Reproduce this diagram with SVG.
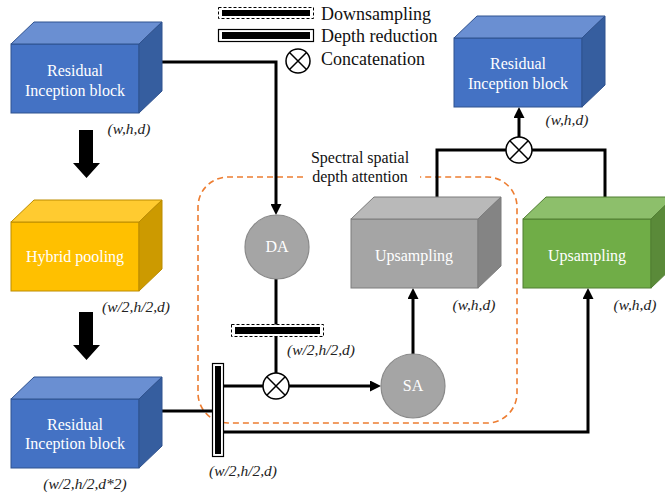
<svg xmlns="http://www.w3.org/2000/svg" width="665" height="497" viewBox="0 0 665 497">
<defs>
<style>
.lbl{font-family:"Liberation Serif","Tinos","DejaVu Serif","Noto Serif",serif;font-size:16px;fill:#ffffff;text-anchor:middle}
.dim{font-family:"Liberation Serif","Tinos","DejaVu Serif","Noto Serif",serif;font-size:15.5px;font-style:italic;fill:#222;text-anchor:middle}
.leg{font-family:"Liberation Serif","Tinos","DejaVu Serif","Noto Serif",serif;font-size:18px;fill:#111}
.cap{font-family:"Liberation Serif","Tinos","DejaVu Serif","Noto Serif",serif;font-size:16px;fill:#111;text-anchor:middle}
.conn{fill:none;stroke:#000;stroke-width:3}
.cc{fill:#fff;stroke:#000;stroke-width:1.5}
.bf{fill:#4472C4;stroke:#2F528F;stroke-width:1}
.bt{fill:#6A8FD2;stroke:#2F528F;stroke-width:1}
.bs{fill:#365E9F;stroke:#2F528F;stroke-width:1}
.of{fill:#FFC000;stroke:#BC8C00;stroke-width:1}
.ot{fill:#FFCB30;stroke:#BC8C00;stroke-width:1}
.os{fill:#CC9A00;stroke:#BC8C00;stroke-width:1}
.gf{fill:#A5A5A5;stroke:#7C7C7C;stroke-width:1}
.gt{fill:#B9B9B9;stroke:#7C7C7C;stroke-width:1}
.gs{fill:#848484;stroke:#7C7C7C;stroke-width:1}
.nf{fill:#70AD47;stroke:#507E32;stroke-width:1}
.nt{fill:#8DBF6B;stroke:#507E32;stroke-width:1}
.ns{fill:#5A8A39;stroke:#507E32;stroke-width:1}
.circ{fill:#A5A5A5;stroke:#8A8A8A;stroke-width:1.2}
</style>
<marker id="ah" viewBox="0 0 11 11" refX="3" refY="5.5" markerWidth="11" markerHeight="11" markerUnits="userSpaceOnUse" orient="auto">
<path d="M0,0 L11,5.5 L0,11 z" fill="#000"/>
</marker>
</defs>
<rect width="665" height="497" fill="#fff"/>

<!-- legend -->
<g id="legend">
<rect x="218.5" y="7.5" width="95" height="11" fill="#fff" stroke="#000" stroke-width="1" stroke-dasharray="3 2"/>
<rect x="222" y="10" width="88" height="6" fill="#000"/>
<text class="leg" x="321" y="20">Downsampling</text>
<rect x="218.5" y="29.5" width="95" height="12" fill="#fff" stroke="#000" stroke-width="1.2"/>
<rect x="222" y="32" width="88" height="7" fill="#000"/>
<text class="leg" x="321" y="42">Depth reduction</text>
<circle class="cc" cx="298" cy="61" r="12"/>
<path d="M289.5,52.5 L306.5,69.5 M306.5,52.5 L289.5,69.5" stroke="#000" stroke-width="1.5"/>
<text class="leg" x="321" y="65">Concatenation</text>
</g>

<!-- attention region -->
<g id="attention-region">
<path d="M303,177 H228 A30,30 0 0 0 198,207 V393 A30,30 0 0 0 228,423 H487 A30,30 0 0 0 517,393 V207 A30,30 0 0 0 487,177 H420" fill="none" stroke="#ED7D31" stroke-width="1.6" stroke-dasharray="6 4"/>
<text class="cap" x="360" y="163">Spectral spatial</text>
<text class="cap" x="360" y="182">depth attention</text>
</g>

<!-- connectors -->
<g id="connectors">
<path class="conn" d="M160,62 H276 V207" marker-end="url(#ah)"/>
<path class="conn" d="M276,279 V373"/>
<path class="conn" d="M223.5,386 H263"/>
<path class="conn" d="M289,386 H373" marker-end="url(#ah)"/>
<path class="conn" d="M413,354 V296" marker-end="url(#ah)"/>
<path class="conn" d="M437,197 V150 H506"/>
<path class="conn" d="M605,197 V150 H532"/>
<path class="conn" d="M519,137 V115" marker-end="url(#ah)"/>
<path class="conn" d="M224,432 H588 V296" marker-end="url(#ah)"/>
<path class="conn" d="M162,411 H212.5"/>
<polygon points="79,130 93,130 93,163 100,163 86.5,178 73,163 79,163" fill="#000"/>
<polygon points="79,312 93,312 93,345 100,345 86.5,360 73,345 79,345" fill="#000"/>
</g>

<!-- downsampling bar on DA path -->
<g id="downsampling">
<rect x="231.5" y="324.5" width="92" height="12" fill="#fff" stroke="#000" stroke-width="1" stroke-dasharray="3 2"/>
<rect x="235" y="327" width="85" height="7" fill="#000"/>
<text class="dim" x="321" y="355">(w/2,h/2,d)</text>
</g>

<!-- depth reduction bar -->
<g id="depth-reduction">
<rect x="212.5" y="363.5" width="11" height="93" fill="#fff" stroke="#000" stroke-width="1.2"/>
<rect x="215" y="366" width="6" height="88" fill="#000"/>
<text class="dim" x="243" y="476">(w/2,h/2,d)</text>
</g>

<!-- concat nodes -->
<g id="concat-1">
<circle class="cc" cx="276" cy="386" r="13"/>
<path d="M266.8,376.8 L285.2,395.2 M285.2,376.8 L266.8,395.2" stroke="#000" stroke-width="1.5"/>
</g>
<g id="concat-2">
<circle class="cc" cx="519" cy="150" r="13"/>
<path d="M509.8,140.8 L528.2,159.2 M528.2,140.8 L509.8,159.2" stroke="#000" stroke-width="1.5"/>
</g>

<!-- top-left residual -->
<g id="residual-1">
<rect class="bf" x="11" y="44" width="128" height="69"/>
<polygon class="bt" points="11,44 34,22 162,22 139,44"/>
<polygon class="bs" points="139,44 162,22 162,91 139,113"/>
<text class="lbl" x="75" y="76">Residual</text>
<text class="lbl" x="75" y="96">Inception block</text>
<text class="dim" x="129" y="134">(w,h,d)</text>
</g>

<!-- hybrid pooling -->
<g id="hybrid-pooling">
<rect class="of" x="11" y="222" width="128" height="69"/>
<polygon class="ot" points="11,222 34,200 162,200 139,222"/>
<polygon class="os" points="139,222 162,200 162,269 139,291"/>
<text class="lbl" x="75" y="262">Hybrid pooling</text>
<text class="dim" x="136" y="312">(w/2,h/2,d)</text>
</g>

<!-- bottom-left residual -->
<g id="residual-2">
<rect class="bf" x="11" y="399" width="128" height="69"/>
<polygon class="bt" points="11,399 34,377 162,377 139,399"/>
<polygon class="bs" points="139,399 162,377 162,446 139,468"/>
<text class="lbl" x="75" y="430">Residual</text>
<text class="lbl" x="75" y="449">Inception block</text>
<text class="dim" x="85" y="489">(w/2,h/2,d*2)</text>
</g>

<!-- DA -->
<g id="da">
<circle class="circ" cx="277" cy="247" r="32"/>
<text class="lbl" x="277" y="252">DA</text>
</g>

<!-- SA -->
<g id="sa">
<circle class="circ" cx="413" cy="386" r="32"/>
<text class="lbl" x="413" y="391">SA</text>
</g>

<!-- gray upsampling -->
<g id="upsampling-1">
<rect class="gf" x="351" y="219" width="127" height="69"/>
<polygon class="gt" points="351,219 374,197 501,197 478,219"/>
<polygon class="gs" points="478,219 501,197 501,266 478,288"/>
<text class="lbl" x="414" y="261">Upsampling</text>
<text class="dim" x="474" y="310">(w,h,d)</text>
</g>

<!-- green upsampling -->
<g id="upsampling-2">
<rect class="nf" x="523" y="219" width="128" height="69"/>
<polygon class="nt" points="523,219 546,197 674,197 651,219"/>
<polygon class="ns" points="651,219 674,197 674,266 651,288"/>
<text class="lbl" x="587" y="261">Upsampling</text>
<text class="dim" x="635" y="310">(w,h,d)</text>
</g>

<!-- top-right residual -->
<g id="residual-3">
<rect class="bf" x="454" y="38" width="128" height="69"/>
<polygon class="bt" points="454,38 477,16 605,16 582,38"/>
<polygon class="bs" points="582,38 605,16 605,85 582,107"/>
<text class="lbl" x="518" y="69">Residual</text>
<text class="lbl" x="518" y="89">Inception block</text>
<text class="dim" x="567" y="125">(w,h,d)</text>
</g>
</svg>
